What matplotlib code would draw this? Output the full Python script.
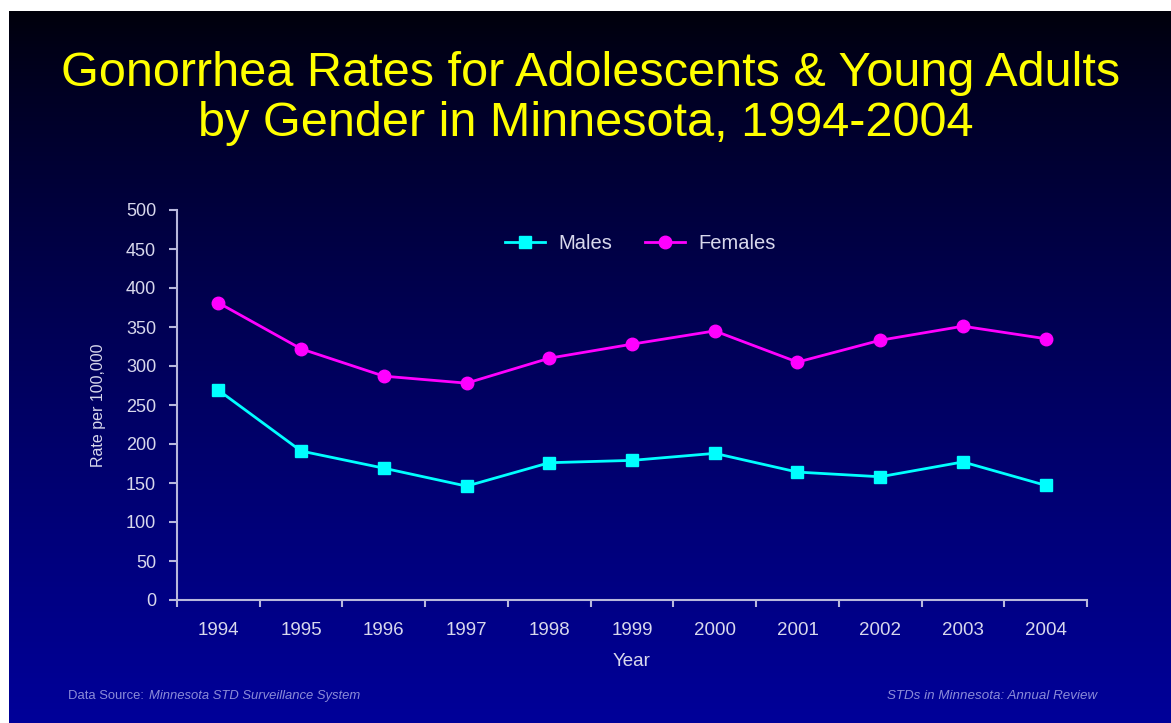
import numpy as np
import matplotlib
matplotlib.use('Agg')
import matplotlib.pyplot as plt

# data
years = ['1994', '1995', '1996', '1997', '1998', '1999', '2000', '2001', '2002', '2003', '2004']
males = [269, 191, 169, 146, 176, 179, 188, 164, 158, 177, 147]
females = [381, 322, 287, 278, 310, 328, 345, 305, 333, 351, 335]
yticks = [0, 50, 100, 150, 200, 250, 300, 350, 400, 450, 500]

fam = ['Liberation Sans', 'DejaVu Sans']
plt.rcParams['font.family'] = fam
txtcol = '#d8d8ec'
axcol = '#b8b8dc'

fig = plt.figure(figsize=(11.71, 7.23), dpi=100)
fig.patch.set_facecolor('white')

# gradient background panel (white strip left and top like the slide grab)
bg = fig.add_axes([9/1171, 0, 1 - 9/1171, 1 - 11/723])
grad = np.linspace(0, 1, 256).reshape(-1, 1)
top = np.array([0.0, 0.0, 0.04])
bot = np.array([0.0, 0.0, 0.60])
img = top + (bot - top) * grad[:, :, None] ** 0.8
bg.imshow(img, aspect='auto', extent=[0, 1, 0, 1], origin='upper')
bg.set_axis_off()

ax = fig.add_axes([177/1171, 1 - 600/723, 910/1171, 390/723])
ax.patch.set_alpha(0)
x = np.arange(len(years))
ax.plot(x, males, color='#00ffff', lw=2, marker='s', ms=9, label='Males')
ax.plot(x, females, color='#ff00ff', lw=2, marker='o', ms=9, label='Females')

ax.set_xlim(-0.5, len(years) - 0.5)
ax.set_ylim(0, 500)
ax.set_yticks(yticks)
ax.set_yticklabels([str(v) for v in yticks], fontsize=13, color=txtcol)
ax.set_xticks(np.arange(len(years) + 1) - 0.5)
ax.set_xticklabels([])
ax.set_xticks(x, minor=True)
ax.set_xticklabels(years, minor=True, fontsize=13.5, color=txtcol)
ax.tick_params(axis='x', which='minor', length=0, pad=16)
ax.tick_params(axis='x', which='major', length=5, color=axcol, width=1.5)
ax.tick_params(axis='y', length=6, color=axcol, width=1.5, pad=9)

for s in ['top', 'right']:
    ax.spines[s].set_visible(False)
for s in ['left', 'bottom']:
    ax.spines[s].set_color(axcol)
    ax.spines[s].set_linewidth(1.5)

ax.set_xlabel('Year', fontsize=13.5, color=txtcol, labelpad=10)
ax.set_ylabel('Rate per 100,000', fontsize=11.5, color=txtcol, labelpad=14)

leg = ax.legend(loc='center', bbox_to_anchor=(0.509, 0.915), ncol=2, frameon=False,
                prop={'size': 14.5}, handlelength=2.0, handletextpad=0.65, columnspacing=1.6)
for t in leg.get_texts():
    t.set_color(txtcol)

fig.text(0.5 + 5/1171, 1 - 74/723, 'Gonorrhea Rates for Adolescents & Young Adults',
         ha='center', va='center', fontsize=35, color='#ffff00')
fig.text(0.5, 1 - 124/723, 'by Gender in Minnesota, 1994-2004',
         ha='center', va='center', fontsize=35, color='#ffff00')

foot = '#8c8cd8'
fig.text(68/1171, 1 - 696/723, 'Data Source: ', fontsize=9.4, color=foot, va='center')
fig.text(149/1171, 1 - 696/723, 'Minnesota STD Surveillance System', fontsize=9.4, color=foot,
         style='italic', va='center')
fig.text(1097/1171, 1 - 696/723, 'STDs in Minnesota: Annual Review', fontsize=9.6, color=foot,
         style='italic', va='center', ha='right')

fig.savefig('out.png', dpi=100, facecolor=fig.get_facecolor())
